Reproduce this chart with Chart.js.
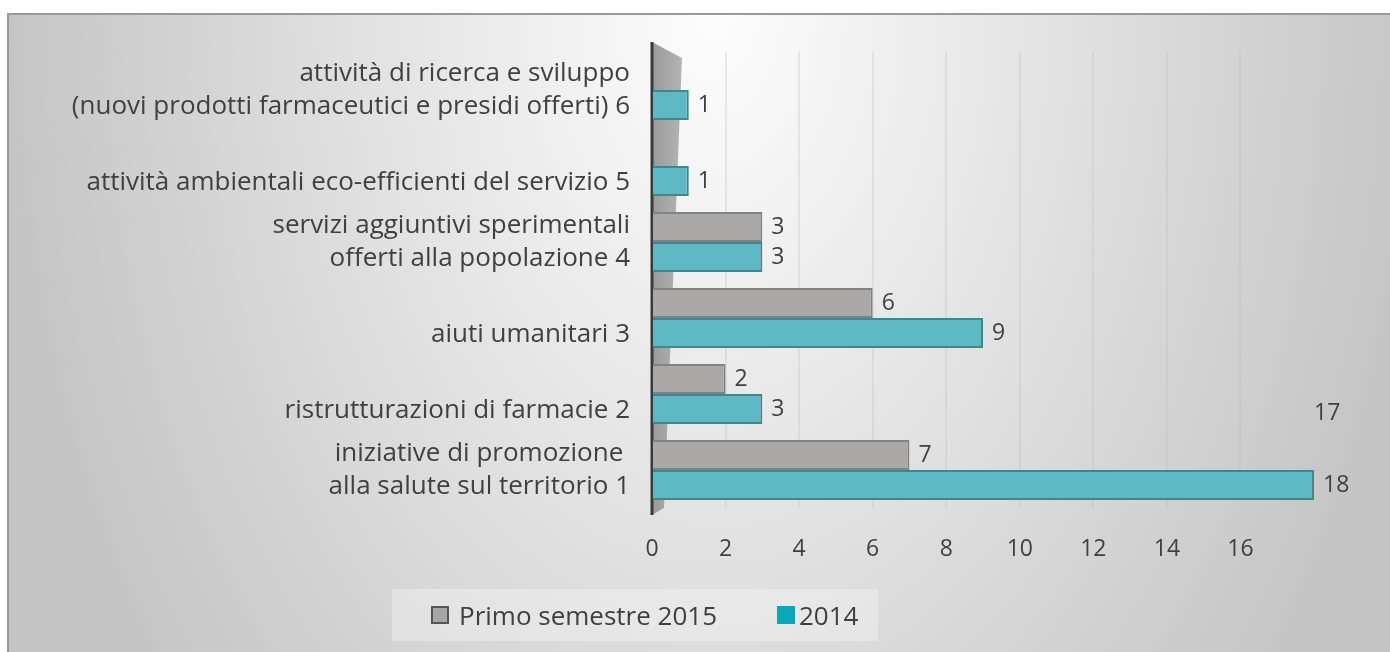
<!DOCTYPE html>
<html>
<head>
<meta charset="utf-8">
<script src="https://cdn.jsdelivr.net/npm/chart.js@4/dist/chart.umd.min.js"></script>
<style>
  body { margin: 0; width: 1390px; height: 652px; overflow: hidden; background: #fff; font-family: "Open Sans", sans-serif; }
  #frame {
    position: absolute; left: 7px; top: 13px; width: 1383px; height: 639px;
    box-sizing: border-box; border-left: 2px solid #999; border-top: 2px solid #999;
    background: radial-gradient(ellipse 720px 1100px at 705px 0px, #fdfdfd 0%, #c4c4c4 100%);
  }
  #chart { position: absolute; left: 0; top: 0; }
  #legend {
    position: absolute; left: 383px; top: 574px; width: 486px; height: 52px;
    background: rgba(255,255,255,0.3);
    font-size: 26px; color: #404040;
  }
  .item { position: absolute; top: 0; height: 52px; display: flex; align-items: center; white-space: nowrap; }
  .swatch { width: 18px; height: 18px; box-sizing: border-box; }
</style>
</head>
<body>
<div id="frame">
  <canvas id="chart" width="1381" height="637"></canvas>
  <div id="legend"></div>
</div>
<script>
const categories = [
  ['attività di ricerca e sviluppo', '(nuovi prodotti farmaceutici e presidi offerti) 6'],
  ['', 'attività ambientali eco-efficienti del servizio 5'],
  ['servizi aggiuntivi sperimentali', 'offerti alla popolazione 4'],
  ['', 'aiuti umanitari 3'],
  ['', 'ristrutturazioni di farmacie 2'],
  ['iniziative di promozione ', 'alla salute sul territorio 1']
];
const semestre2015 = [null, null, 3, 6, 2, 7];
const anno2014 = [1, 1, 3, 9, 3, 18];
const xTicks = [0, 2, 4, 6, 8, 10, 12, 14, 16];
const seriesNames = ['Primo semestre 2015', '2014'];
const extraLabel = '17';

const textColor = '#404040';
const font = 'Open Sans';

// side wall + value axis line
const wallPlugin = {
  id: 'wall',
  beforeDatasetsDraw(chart) {
    const { ctx, chartArea } = chart;
    const x0 = chart.scales.x.getPixelForValue(0);
    const top = chartArea.top, bottom = chartArea.bottom;
    ctx.save();
    const g = ctx.createLinearGradient(x0, 0, x0 + 30, 0);
    g.addColorStop(0, '#9a9a9a');
    g.addColorStop(1, '#b4b4b4');
    ctx.fillStyle = g;
    ctx.beginPath();
    ctx.moveTo(x0, top - 10);
    ctx.lineTo(x0 + 30, top + 6);
    ctx.lineTo(x0 + 12, bottom);
    ctx.lineTo(x0, bottom + 7);
    ctx.closePath();
    ctx.fill();
    ctx.strokeStyle = '#3a3a3a';
    ctx.lineWidth = 3;
    ctx.beginPath();
    ctx.moveTo(x0, top - 10);
    ctx.lineTo(x0, bottom + 7);
    ctx.stroke();
    ctx.restore();
  }
};

// value labels at the end of the bars
const valuePlugin = {
  id: 'values',
  afterDatasetsDraw(chart) {
    const { ctx } = chart;
    ctx.save();
    ctx.font = '23px "' + font + '"';
    ctx.fillStyle = textColor;
    ctx.textBaseline = 'middle';
    ctx.textAlign = 'left';
    chart.data.datasets.forEach((ds, i) => {
      chart.getDatasetMeta(i).data.forEach((bar, j) => {
        if (ds.data[j] == null) return;
        ctx.fillText(String(ds.data[j]), bar.x + 9, bar.y);
      });
    });
    const ref = chart.getDatasetMeta(1).data[4];
    ctx.fillText(extraLabel, chart.chartArea.right, ref.y + 4);
    ctx.restore();
  }
};

const ctx = document.getElementById('chart').getContext('2d');
const myChart = new Chart(ctx, {
  type: 'bar',
  data: {
    labels: categories,
    datasets: [
      {
        label: seriesNames[0],
        data: semestre2015,
        backgroundColor: '#aba8a8',
        borderColor: '#828282',
        borderWidth: 2,
        borderSkipped: 'left'
      },
      {
        label: seriesNames[1],
        data: anno2014,
        backgroundColor: '#5dbac5',
        borderColor: '#3d878d',
        borderWidth: 2,
        borderSkipped: 'left'
      }
    ]
  },
  options: {
    indexAxis: 'y',
    responsive: false,
    animation: false,
    layout: { padding: { left: 0, right: 76, top: 37, bottom: 84 } },
    datasets: { bar: { categoryPercentage: 0.79, barPercentage: 1.0 } },
    plugins: {
      legend: { display: false },
      tooltip: { enabled: false }
    },
    scales: {
      x: {
        min: 0,
        max: 18,
        afterFit: (scale) => { scale.height = 60; scale.paddingLeft = 0; scale.paddingRight = 0; },
        afterBuildTicks: (scale) => { scale.ticks = xTicks.map(v => ({ value: v })); },
        border: { display: false },
        grid: { color: 'rgba(185,185,185,0.28)', lineWidth: 2, drawTicks: false },
        ticks: { padding: 28, color: textColor, font: { family: font, size: 23 } }
      },
      y: {
        afterFit: (scale) => { scale.width = 643; scale.paddingTop = 0; scale.paddingBottom = 0; },
        border: { display: false },
        grid: { display: false, drawTicks: false },
        ticks: { padding: 22, color: textColor, font: { family: font, size: 26, lineHeight: 1.27 } }
      }
    }
  },
  plugins: [wallPlugin, valuePlugin]
});

// legend
const legend = document.getElementById('legend');
const legendItems = [
  { bg: '#a6a6a6', border: '2px solid #555', left: 39, gap: 10 },
  { bg: '#0aa7b9', border: 'none', left: 385, gap: 4 }
];
seriesNames.forEach((name, i) => {
  const item = document.createElement('div');
  item.className = 'item';
  item.style.left = legendItems[i].left + 'px';
  const sw = document.createElement('span');
  sw.className = 'swatch';
  sw.style.background = legendItems[i].bg;
  sw.style.border = legendItems[i].border;
  sw.style.marginRight = legendItems[i].gap + 'px';
  const t = document.createElement('span');
  t.textContent = name;
  item.appendChild(sw);
  item.appendChild(t);
  legend.appendChild(item);
});
</script>
</body>
</html>
